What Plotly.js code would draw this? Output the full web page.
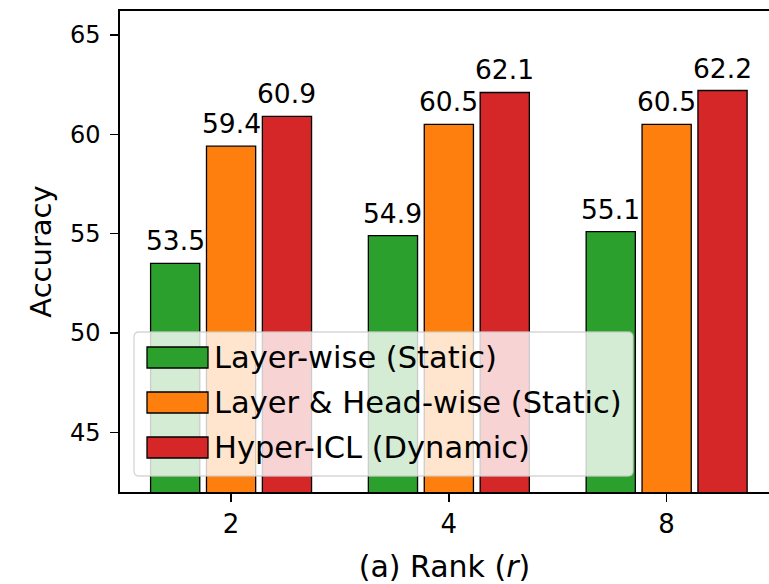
<!DOCTYPE html>
<html>
<head>
<meta charset="utf-8">
<script src="https://cdn.plot.ly/plotly-3.0.1.min.js"></script>
<style>html,body{margin:0;padding:0;background:#fff;}#chart{width:769px;height:584px;}</style>
</head>
<body>
<div id="chart"></div>
<script>
// ---- data ----
const ranks = ['2', '4', '8'];
const seriesNames = ['Layer-wise (Static)', 'Layer & Head-wise (Static)', 'Hyper-ICL (Dynamic)'];
const layerWise = [53.5, 54.9, 55.1];
const layerHeadWise = [59.4, 60.5, 60.5];
const hyperICL = [60.9, 62.1, 62.2];
const yTicks = [45, 50, 55, 60, 65];

const colors = ['#2ca02c', '#ff7f0e', '#d62728'];
const values = [layerWise, layerHeadWise, hyperICL];
const FONT = 'DejaVu Sans, sans-serif';

const BARGAP = 0.23, GROUPGAP = 0.12;
const XRANGE = [-0.51, 2.47];

const traces = values.map((v, i) => ({
  type: 'bar',
  name: seriesNames[i],
  x: ranks,
  y: v,
  marker: {color: colors[i], line: {color: '#000', width: 1.3}},
  showlegend: false,
  hoverinfo: 'x+y'
}));

// plot area geometry in pixels (for legend placement)
const W = 769, H = 584;
const M = {l: 120, r: 0, t: 11, b: 92};
const pw = W - M.l - M.r, ph = H - M.t - M.b;
const px = x => (x - M.l) / pw;
const py = y => (H - M.b - y) / ph;
const pxPerCat = pw / (XRANGE[1] - XRANGE[0]);
const slotPx = (1 - BARGAP) / values.length * pxPerCat;

function roundRect(x0, y0, x1, y1, r) {
  const X = v => px(v).toFixed(5), Y = v => py(v).toFixed(5);
  return `M${X(x0 + r)},${Y(y0)} L${X(x1 - r)},${Y(y0)} Q${X(x1)},${Y(y0)} ${X(x1)},${Y(y0 + r)} ` +
         `L${X(x1)},${Y(y1 - r)} Q${X(x1)},${Y(y1)} ${X(x1 - r)},${Y(y1)} ` +
         `L${X(x0 + r)},${Y(y1)} Q${X(x0)},${Y(y1)} ${X(x0)},${Y(y1 - r)} ` +
         `L${X(x0)},${Y(y0 + r)} Q${X(x0)},${Y(y0)} ${X(x0 + r)},${Y(y0)} Z`;
}

const annotations = [];
// value labels above bars (placed at data coordinates; x = category index)
values.forEach((v, i) => {
  v.forEach((d, j) => {
    annotations.push({
      xref: 'x', yref: 'y', x: ranks.indexOf(ranks[j]), y: d,
      xshift: (i - (values.length - 1) / 2) * slotPx, yshift: 5,
      xanchor: 'center', yanchor: 'bottom', showarrow: false,
      text: d.toFixed(1), font: {family: FONT, size: 26.5, color: '#000'}
    });
  });
});

const shapes = [{
  type: 'path', xref: 'paper', yref: 'paper', layer: 'above',
  path: roundRect(134, 332, 633, 476, 5),
  fillcolor: 'rgba(255,255,255,0.8)',
  line: {color: 'rgba(204,204,204,0.8)', width: 1.3}
}];
const rowTops = [347, 392, 437];
seriesNames.forEach((name, i) => {
  const t = rowTops[i];
  shapes.push({
    type: 'rect', xref: 'paper', yref: 'paper', layer: 'above',
    x0: px(147), x1: px(208), y0: py(t), y1: py(t + 21),
    fillcolor: colors[i], line: {color: '#000', width: 1.3}
  });
  annotations.push({
    xref: 'paper', yref: 'paper', x: px(212), y: py(t + 10.5),
    xanchor: 'left', yanchor: 'middle', showarrow: false,
    text: name, font: {family: FONT, size: 30.5, color: '#000'}
  });
});

const layout = {
  width: W, height: H,
  margin: M,
  paper_bgcolor: '#fff', plot_bgcolor: '#fff',
  font: {family: FONT, color: '#000'},
  barmode: 'group',
  bargap: BARGAP,
  bargroupgap: GROUPGAP,
  showlegend: false,
  xaxis: {
    type: 'category',
    range: XRANGE,
    showline: true, linecolor: '#000', linewidth: 1.6, mirror: true,
    ticks: 'outside', ticklen: 8, tickwidth: 1.3, tickcolor: '#000',
    tickfont: {family: FONT, size: 26, color: '#000'},
    showgrid: false, zeroline: false,
    title: {text: '(a) Rank (<i>r</i>)', font: {family: FONT, size: 30, color: '#000'}, standoff: 22}
  },
  yaxis: {
    range: [42, 66.2],
    tickvals: yTicks,
    showline: true, linecolor: '#000', linewidth: 1.6,
    ticks: 'outside', ticklen: 8, tickwidth: 1.3, tickcolor: '#000',
    ticklabelstandoff: 5,
    tickfont: {family: FONT, size: 24, color: '#000'},
    showgrid: false, zeroline: false,
    title: {text: 'Accuracy', font: {family: FONT, size: 29, color: '#000'}, standoff: 10}
  },
  shapes: shapes,
  annotations: annotations
};

Plotly.newPlot('chart', traces, layout, {displayModeBar: false, staticPlot: true});
</script>
</body>
</html>
